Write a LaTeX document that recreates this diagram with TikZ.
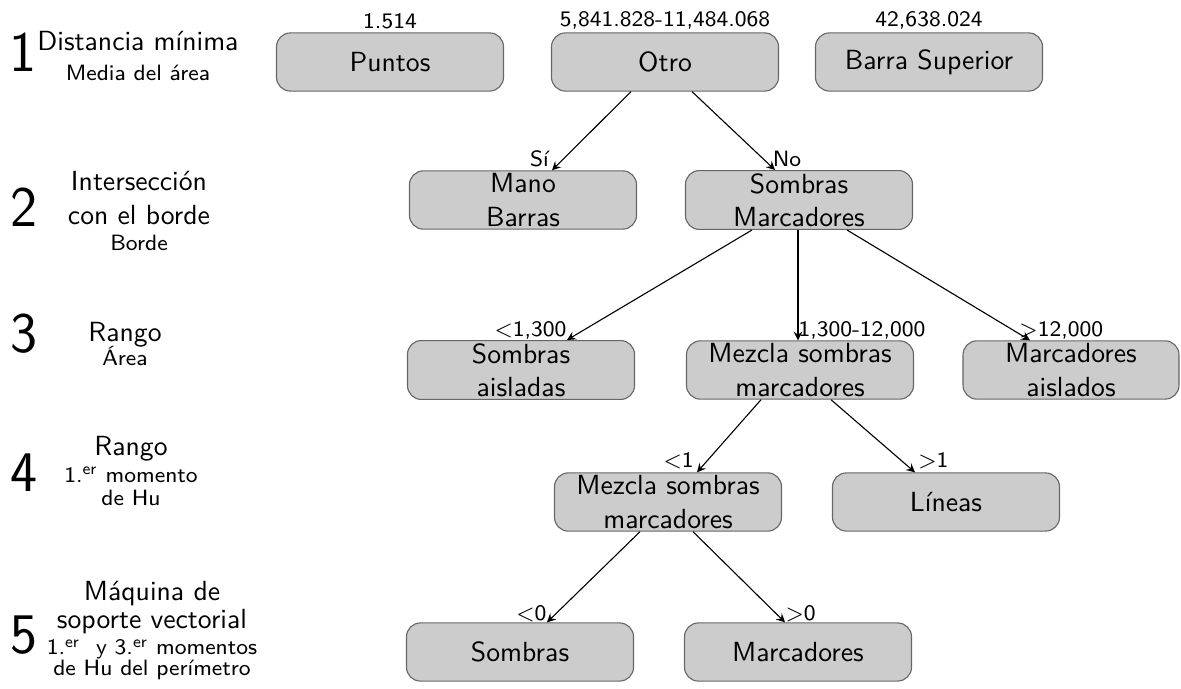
\documentclass[tikz,border=0pt]{standalone}
\usetikzlibrary{calc}
\renewcommand{\familydefault}{\sfdefault}

\begin{document}
\begin{tikzpicture}[x=0.0127cm,y=-0.0127cm,>=stealth,
  box/.style={draw=black!60,fill=black!20,rounded corners=5pt,minimum width=82pt,minimum height=21pt,inner sep=1pt,align=center},
  lbl/.style={font=\footnotesize,inner sep=1pt},
  num/.style={font=\huge,inner sep=0pt},
  crit/.style={align=center,inner sep=0pt}]

\useasboundingbox (0,0) rectangle (1181,689);

% Criterios
\node[num] (n1) at (23,52) {1};
\node[crit] (c1) at (138,56) {Distancia m\'inima\\[-1.4pt]{\footnotesize Media del \'area}};
\node[num] (n2) at (24,207) {2};
\node[crit] (c2) at (139,211) {Intersecci\'on\\con el borde\\[-2.6pt]{\footnotesize Borde}};
\node[num] (n3) at (24,334) {3};
\node[crit] (c3) at (125,344) {Rango\\[-3pt]{\footnotesize \'Area}};
\node[num] (n4) at (24,473) {4};
\node[crit] (c4) at (131,471) {Rango\\[-2.6pt]{\footnotesize 1.\textsuperscript{er} momento}\\[-3.7pt]{\footnotesize de Hu}};
\node[num] (n5) at (24,635) {5};
\node[crit] (c5) at (152,631) {M\'aquina de\\[-1.9pt]soporte vectorial\\[-2.6pt]{\footnotesize 1.\textsuperscript{er}\ \ y 3.\textsuperscript{er} momentos}\\[-4.4pt]{\footnotesize de Hu del per\'imetro}};

% Nivel 1
\node[box] (puntos) at (390,62) {Puntos};
\node[box] (otro) at (665,62) {Otro};
\node[box] (barra) at (929,62) {Barra Superior};
\node[lbl,above] at (puntos.north) {1.514};
\node[lbl,above] at (otro.north) {5,841.828-11,484.068};
\node[lbl,above] at (barra.north) {42,638.024};

% Nivel 2
\node[box] (mano) at (523,200) {Mano\\Barras};
\node[box] (sommar) at (799,200) {Sombras\\Marcadores};
\draw[->] ($(otro.south)+(-34,0)$) -- ($(mano.north)+(29,0)$) node[lbl,anchor=south east] {S\'i};
\draw[->] ($(otro.south)+(27,0)$) -- ($(sommar.north)+(-24,0)$) node[lbl,anchor=south west,xshift=-2pt] {No};

% Nivel 3
\node[box] (somais) at (521,370) {Sombras\\aisladas};
\node[box] (mezcla) at (800,370) {Mezcla sombras\\marcadores};
\node[box,minimum width=78pt] (marais) at (1071,370) {Marcadores\\aislados};
\draw[->] ($(sommar.south)+(-47,0)$) -- ($(somais.north)+(46,0)$) node[lbl,anchor=south east,inner sep=0pt] {$<$1,300};
\draw[->] ($(sommar.south)+(-1,0)$) -- ($(mezcla.north)+(-2,0)$) node[lbl,anchor=south west,inner sep=0pt] {1,300-12,000};
\draw[->] ($(sommar.south)+(48,0)$) -- ($(marais.north)+(-41,0)$) node[lbl,anchor=south west,xshift=-4pt,inner sep=0pt] {$>$12,000};

% Nivel 4
\node[box] (mezcla2) at (668,502) {Mezcla sombras\\marcadores};
\node[box] (lineas) at (946,502) {L\'ineas};
\draw[->] ($(mezcla.south)+(-39,0)$) -- ($(mezcla2.north)+(29,0)$) node[lbl,anchor=south east] {$<$1};
\draw[->] ($(mezcla.south)+(31,0)$) -- ($(lineas.north)+(-31,0)$) node[lbl,anchor=south west] {$>$1};

% Nivel 5
\node[box] (sombras) at (520,652) {Sombras};
\node[box] (marcadores) at (798,652) {Marcadores};
\draw[->] ($(mezcla2.south)+(-28,0)$) -- ($(sombras.north)+(27,0)$) node[lbl,anchor=south east,inner sep=0pt] {$<$0};
\draw[->] ($(mezcla2.south)+(25,0)$) -- ($(marcadores.north)+(-13,0)$) node[lbl,anchor=south west,inner sep=0pt] {$>$0};

\end{tikzpicture}
\end{document}
